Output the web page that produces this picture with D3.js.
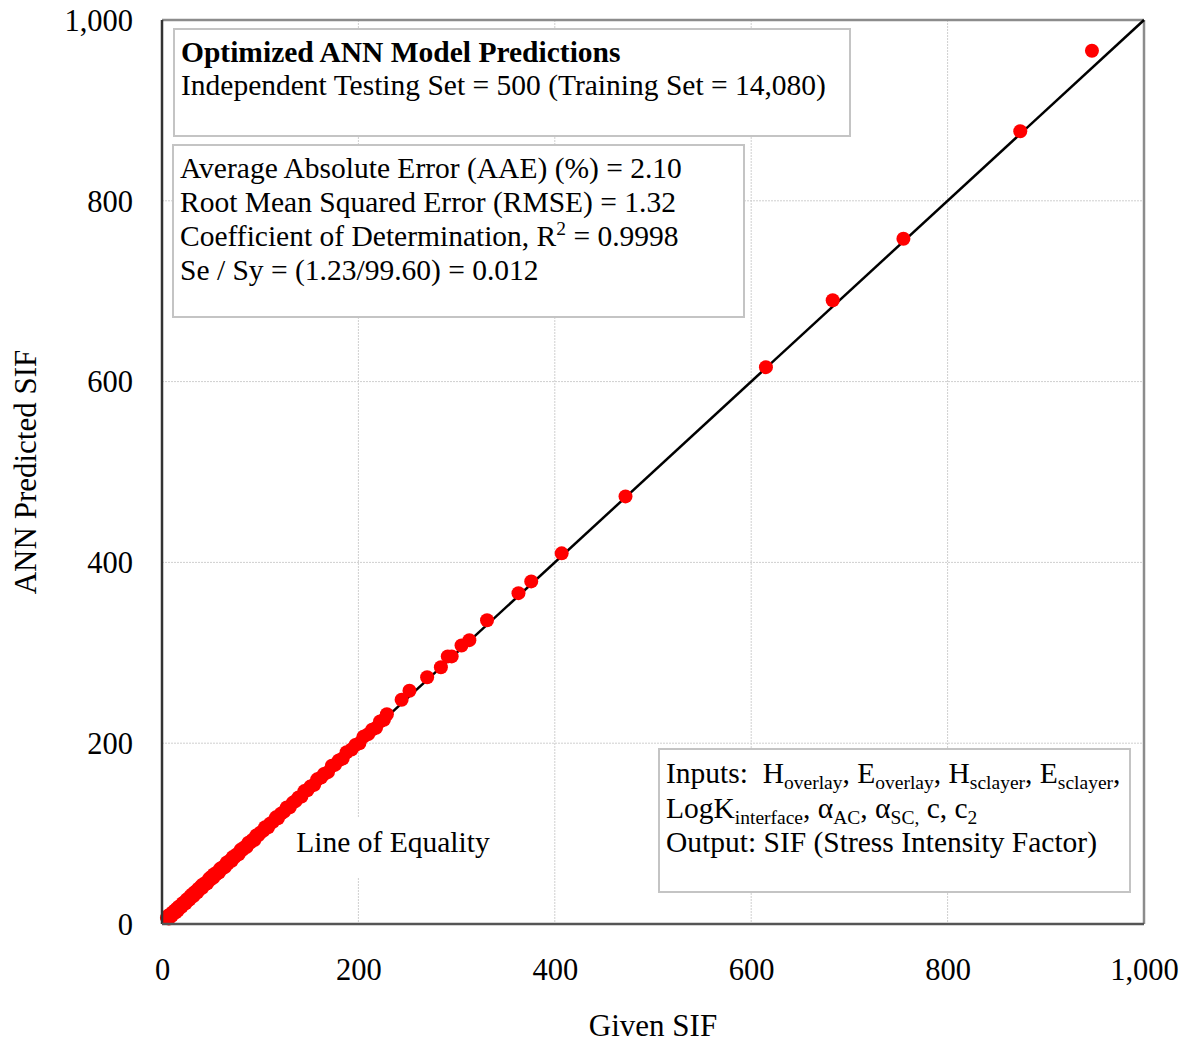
<!DOCTYPE html>
<html>
<head>
<meta charset="utf-8">
<script src="https://cdn.jsdelivr.net/npm/d3@7"></script>
<style>
  body { margin: 0; background: #fff; }
  text { font-family: "Liberation Serif", "Times New Roman", serif; fill: #000; }
</style>
</head>
<body>
<div id="chart"></div>
<script>
// data
const givenSIF = [5, 6, 7, 8, 9, 10, 11, 12, 13, 14, 15, 16, 17, 18, 19, 20, 21, 22, 23, 24, 25, 26, 27, 28, 29, 30,
  31, 32, 33, 34, 35, 36, 37, 38, 40, 41, 42, 44, 45, 46, 48, 49, 50, 52, 53, 55, 56, 58, 59, 61, 62, 64, 66, 67,
  69, 71, 72, 74, 76, 78, 80, 82, 84, 86, 88, 90, 92, 94, 96, 98, 100, 103, 105, 108, 110, 113, 116, 118, 121, 124,
  127, 130, 133, 136, 139, 142, 145, 148, 151, 155, 158, 162, 165, 169, 173, 176, 180, 184, 188, 193, 197, 201, 205,
  210, 214, 218, 222, 226, 229, 244, 252, 270, 284, 291, 295, 305, 313, 331, 363, 376, 407, 472, 615, 683, 755, 874, 947];
const predictedSIF = [7, 9, 6, 9, 11, 9, 13, 12, 15, 13, 17, 15, 19, 18, 20, 19, 23, 22, 24, 23, 27, 26, 28, 27, 31, 30,
  33, 31, 35, 34, 36, 35, 39, 38, 42, 40, 44, 44, 46, 45, 50, 49, 52, 51, 55, 55, 57, 57, 61, 61, 63, 63, 68, 67,
  70, 70, 74, 74, 77, 77, 82, 82, 85, 85, 90, 90, 93, 93, 98, 98, 101, 103, 107, 107, 111, 113, 118, 117, 122, 124,
  129, 129, 134, 136, 140, 141, 147, 148, 152, 154, 160, 162, 166, 168, 175, 176, 181, 183, 190, 193, 198, 200, 207,
  210, 215, 217, 224, 226, 232, 248, 258, 273, 284, 296, 296, 308, 314, 336, 366, 379, 410, 473, 616, 690, 758, 877, 966];
const ticks = [0, 200, 400, 600, 800, 1000];

const points = givenSIF.map((g, i) => ({x: g, y: predictedSIF[i]}));

const W = 1190, H = 1047;
const margin = {top: 20, right: 46, bottom: 123, left: 162};
const width = W - margin.left - margin.right;
const height = H - margin.top - margin.bottom;
const FS = "29.5px", SUB = "19.5px";

const svg = d3.select("#chart").append("svg")
  .attr("width", W)
  .attr("height", H);

const g = svg.append("g")
  .attr("transform", `translate(${margin.left},${margin.top})`);

const x = d3.scaleLinear().domain([0, 1000]).range([0, width]);
const y = d3.scaleLinear().domain([0, 1000]).range([height, 0]);

// gridlines
g.append("g")
  .selectAll("line")
  .data(ticks.slice(1, -1))
  .join("line")
  .attr("x1", d => x(d)).attr("x2", d => x(d))
  .attr("y1", 0).attr("y2", height)
  .attr("stroke", "#cfcfcf").attr("stroke-width", 1).attr("stroke-dasharray", "2,1");
g.append("g")
  .selectAll("line")
  .data(ticks.slice(1, -1))
  .join("line")
  .attr("y1", d => y(d)).attr("y2", d => y(d))
  .attr("x1", 0).attr("x2", width)
  .attr("stroke", "#cfcfcf").attr("stroke-width", 1).attr("stroke-dasharray", "2,1");

// axes, tick labels only
const fmt = d3.format(",");
const xAxis = d3.axisBottom(x).tickValues(ticks).tickFormat(fmt).tickSize(0).tickPadding(34);
const yAxis = d3.axisLeft(y).tickValues(ticks).tickFormat(fmt).tickSize(0).tickPadding(29);

const xg = g.append("g").attr("transform", `translate(0,${height})`).call(xAxis);
const yg = g.append("g").call(yAxis);
[xg, yg].forEach(a => {
  a.select(".domain").remove();
  a.selectAll("text").style("font-family", "Liberation Serif").style("font-size", "30.5px");
});
yg.selectAll("text").attr("dy", "0.34em");

// box round the plot
g.append("line").attr("x1", 0).attr("x2", width).attr("y1", 0).attr("y2", 0)
  .attr("stroke", "#8c8c8c").attr("stroke-width", 2.5);
g.append("line").attr("x1", width).attr("x2", width).attr("y1", 0).attr("y2", height)
  .attr("stroke", "#8c8c8c").attr("stroke-width", 2.5);

// text boxes
function box(x0, y0, w, h) {
  svg.append("rect")
    .attr("x", x0).attr("y", y0).attr("width", w).attr("height", h)
    .attr("fill", "#fff").attr("stroke", "#c4c4c4").attr("stroke-width", 2);
}

// text with sub/superscript parts: [text, 0 normal | 1 sub | -1 sup]
function richText(x0, y0, parts) {
  const el = svg.append("text").attr("x", x0).attr("y", y0).style("font-size", FS)
    .attr("xml:space", "preserve");
  let shift = 0;
  parts.forEach(([t, s]) => {
    const target = s === 1 ? 6 : s === -1 ? -11 : 0;
    el.append("tspan").attr("dy", target - shift).style("font-size", s ? SUB : FS).text(t);
    shift = target;
  });
  return el;
}

box(174, 29, 676, 107);
svg.append("text").attr("x", 181).attr("y", 62)
  .style("font-size", FS).style("font-weight", "bold")
  .text("Optimized ANN Model Predictions");
svg.append("text").attr("x", 181).attr("y", 95)
  .style("font-size", FS)
  .text("Independent Testing Set = 500 (Training Set = 14,080)");

box(173, 145, 571, 172);
richText(180, 178, [["Average Absolute Error (AAE) (%) = 2.10", 0]]);
richText(180, 212, [["Root Mean Squared Error (RMSE) = 1.32", 0]]);
richText(180, 246, [["Coefficient of Determination, R", 0], ["2", -1], [" = 0.9998", 0]]);
richText(180, 280, [["Se / Sy = (1.23/99.60) = 0.012", 0]]);

box(659, 749, 471, 143);
richText(666, 783, [["Inputs:  H", 0], ["overlay", 1], [", E", 0], ["overlay", 1], [", H", 0], ["sclayer", 1], [", E", 0], ["sclayer", 1], [",", 0]]);
richText(666, 818, [["LogK", 0], ["interface", 1], [", \u03B1", 0], ["AC", 1], [", \u03B1", 0], ["SC,", 1], [" c, c", 0], ["2", 1]]);
richText(666, 852, [["Output: SIF (Stress Intensity Factor)", 0]]);

// line of equality
g.append("line")
  .attr("x1", x(0)).attr("y1", y(0)).attr("x2", x(1000)).attr("y2", y(1000))
  .attr("stroke", "#000").attr("stroke-width", 2.5);

// points
g.append("g").selectAll("circle")
  .data(points)
  .join("circle")
  .attr("cx", d => x(d.x))
  .attr("cy", d => y(d.y))
  .attr("r", 7)
  .attr("fill", "#ff0000");

// label with white background
svg.append("rect").attr("x", 290).attr("y", 818).attr("width", 205).attr("height", 60).attr("fill", "#fff");
svg.append("text").attr("x", 393).attr("y", 852).attr("text-anchor", "middle")
  .style("font-size", FS).text("Line of Equality");

// left and bottom axis lines
g.append("line").attr("x1", 0).attr("x2", 0).attr("y1", 0).attr("y2", height)
  .attr("stroke", "#333").attr("stroke-width", 2.5);
g.append("line").attr("x1", 0).attr("x2", width).attr("y1", height).attr("y2", height)
  .attr("stroke", "#555").attr("stroke-width", 2.5);

// axis titles
svg.append("text").attr("x", 653).attr("y", 1036).attr("text-anchor", "middle")
  .style("font-size", "31px").text("Given SIF");
svg.append("text").attr("transform", "translate(36,472) rotate(-90)").attr("text-anchor", "middle")
  .style("font-size", "31px").text("ANN Predicted SIF");
</script>
</body>
</html>
